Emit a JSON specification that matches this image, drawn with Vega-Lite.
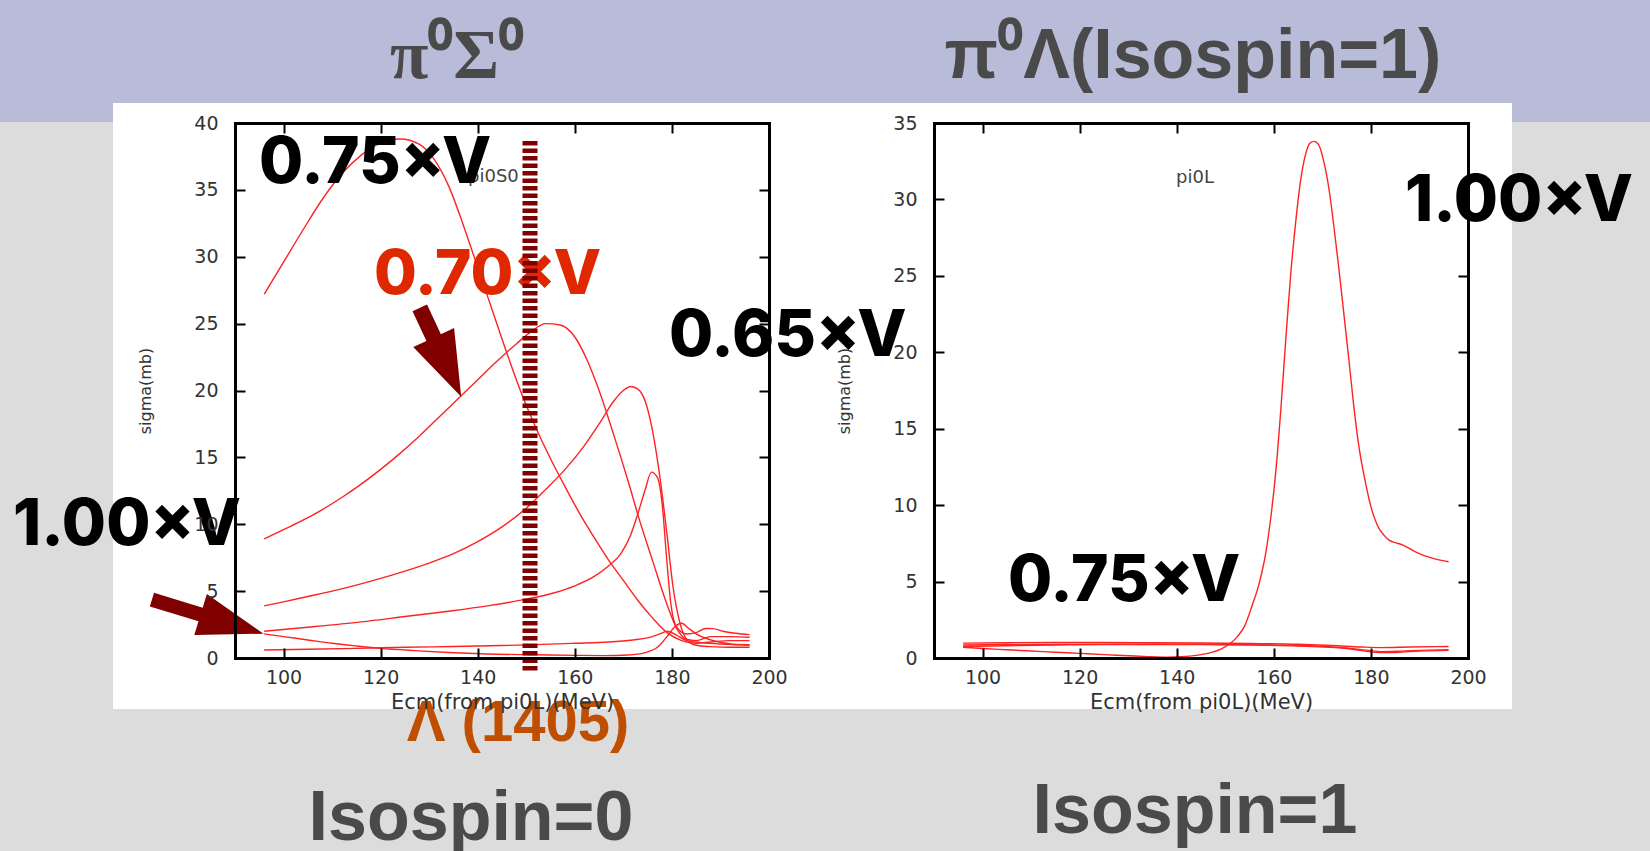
{
"$schema": "https://vega.github.io/schema/vega-lite/v6.json",
"padding": 0,
"background": "#dcdcdc",
"bounds": "flush",
"spacing": 165,
"config": {
  "view": {"stroke": null},
  "axis": {"domainColor": "#000", "domainWidth": 3, "domainCap": "square", "tickColor": "#000", "tickWidth": 2, "tickSize": -10, "labelFont": "DejaVu Sans", "labelFontSize": 19, "labelColor": "#333", "labelFlush": false, "labelOverlap": false, "titleFont": "DejaVu Sans", "titleFontWeight": "normal", "titleColor": "#333", "grid": false}
},
"datasets": {
  "left": [
    {"s":"A","x":96,"y":27.2},{"s":"A","x":100,"y":29.6},{"s":"A","x":104,"y":32.0},{"s":"A","x":108,"y":34.3},{"s":"A","x":112,"y":36.2},{"s":"A","x":116,"y":37.6},{"s":"A","x":120,"y":38.5},{"s":"A","x":124,"y":38.8},{"s":"A","x":128,"y":38.4},{"s":"A","x":131,"y":37.3},{"s":"A","x":134,"y":35.3},{"s":"A","x":137,"y":32.4},{"s":"A","x":140,"y":29.2},{"s":"A","x":143,"y":26.0},{"s":"A","x":146,"y":22.8},{"s":"A","x":149,"y":19.8},{"s":"A","x":152,"y":17.2},{"s":"A","x":155,"y":14.9},{"s":"A","x":158,"y":12.8},{"s":"A","x":161,"y":10.8},{"s":"A","x":164,"y":9.0},{"s":"A","x":167,"y":7.3},{"s":"A","x":170,"y":5.8},{"s":"A","x":173,"y":4.3},{"s":"A","x":176,"y":3.0},{"s":"A","x":179,"y":1.9},{"s":"A","x":182,"y":1.3},{"s":"A","x":185,"y":1.1},{"s":"A","x":188,"y":1.2},{"s":"A","x":192,"y":1.3},{"s":"A","x":196,"y":1.3},
    {"s":"B","x":96,"y":8.9},{"s":"B","x":100,"y":9.6},{"s":"B","x":104,"y":10.3},{"s":"B","x":108,"y":11.1},{"s":"B","x":112,"y":12.0},{"s":"B","x":116,"y":13.0},{"s":"B","x":120,"y":14.1},{"s":"B","x":124,"y":15.3},{"s":"B","x":128,"y":16.6},{"s":"B","x":132,"y":18.0},{"s":"B","x":136,"y":19.4},{"s":"B","x":140,"y":20.8},{"s":"B","x":144,"y":22.2},{"s":"B","x":148,"y":23.5},{"s":"B","x":151,"y":24.4},{"s":"B","x":154,"y":25.0},{"s":"B","x":157,"y":24.9},{"s":"B","x":160,"y":24.0},{"s":"B","x":162.5,"y":22.3},{"s":"B","x":165,"y":20.0},{"s":"B","x":168,"y":16.7},{"s":"B","x":171,"y":13.2},{"s":"B","x":173.5,"y":10.1},{"s":"B","x":176,"y":7.3},{"s":"B","x":179,"y":4.0},{"s":"B","x":181,"y":2.2},{"s":"B","x":183,"y":1.4},{"s":"B","x":185,"y":1.3},{"s":"B","x":188,"y":1.6},{"s":"B","x":192,"y":1.6},{"s":"B","x":196,"y":1.55},
    {"s":"C","x":96,"y":3.9},{"s":"C","x":100,"y":4.2},{"s":"C","x":105,"y":4.6},{"s":"C","x":110,"y":5.0},{"s":"C","x":115,"y":5.45},{"s":"C","x":120,"y":5.95},{"s":"C","x":125,"y":6.5},{"s":"C","x":130,"y":7.1},{"s":"C","x":135,"y":7.8},{"s":"C","x":140,"y":8.7},{"s":"C","x":145,"y":9.8},{"s":"C","x":150,"y":11.2},{"s":"C","x":154,"y":12.6},{"s":"C","x":158,"y":14.1},{"s":"C","x":162,"y":15.9},{"s":"C","x":165,"y":17.5},{"s":"C","x":168,"y":19.2},{"s":"C","x":170,"y":20.0},{"s":"C","x":171.5,"y":20.3},{"s":"C","x":173,"y":20.1},{"s":"C","x":174.5,"y":19.2},{"s":"C","x":176,"y":17.0},{"s":"C","x":177.5,"y":13.6},{"s":"C","x":179,"y":9.2},{"s":"C","x":180.2,"y":5.4},{"s":"C","x":181.6,"y":2.7},{"s":"C","x":183,"y":1.4},{"s":"C","x":185,"y":0.95},{"s":"C","x":188,"y":0.85},{"s":"C","x":192,"y":0.8},{"s":"C","x":196,"y":0.8},
    {"s":"D","x":96,"y":2.0},{"s":"D","x":105,"y":2.3},{"s":"D","x":116,"y":2.7},{"s":"D","x":125,"y":3.1},{"s":"D","x":134,"y":3.5},{"s":"D","x":142,"y":3.9},{"s":"D","x":150,"y":4.4},{"s":"D","x":156,"y":4.9},{"s":"D","x":160,"y":5.4},{"s":"D","x":164,"y":6.1},{"s":"D","x":167,"y":6.9},{"s":"D","x":169.5,"y":7.8},{"s":"D","x":171.5,"y":9.2},{"s":"D","x":173,"y":10.8},{"s":"D","x":174.5,"y":12.6},{"s":"D","x":175.8,"y":13.9},{"s":"D","x":177,"y":13.5},{"s":"D","x":178,"y":11.5},{"s":"D","x":178.9,"y":7.5},{"s":"D","x":179.8,"y":4.0},{"s":"D","x":181,"y":2.3},{"s":"D","x":183,"y":1.8},{"s":"D","x":185,"y":1.9},{"s":"D","x":187,"y":2.2},{"s":"D","x":188.5,"y":2.2},{"s":"D","x":190.5,"y":2.0},{"s":"D","x":193,"y":1.85},{"s":"D","x":196,"y":1.75},
    {"s":"E","x":96,"y":1.8},{"s":"E","x":100,"y":1.6},{"s":"E","x":105,"y":1.35},{"s":"E","x":110,"y":1.1},{"s":"E","x":115,"y":0.9},{"s":"E","x":120,"y":0.72},{"s":"E","x":127,"y":0.55},{"s":"E","x":134,"y":0.41},{"s":"E","x":142,"y":0.3},{"s":"E","x":152,"y":0.24},{"s":"E","x":160,"y":0.2},{"s":"E","x":166,"y":0.18},{"s":"E","x":171,"y":0.22},{"s":"E","x":174.5,"y":0.4},{"s":"E","x":177,"y":0.8},{"s":"E","x":179,"y":1.6},{"s":"E","x":180.5,"y":2.3},{"s":"E","x":182,"y":2.6},{"s":"E","x":183.5,"y":2.2},{"s":"E","x":185,"y":1.8},{"s":"E","x":188,"y":1.35},{"s":"E","x":192,"y":1.05},{"s":"E","x":196,"y":0.95},
    {"s":"F","x":96,"y":0.6},{"s":"F","x":105,"y":0.65},{"s":"F","x":115,"y":0.72},{"s":"F","x":125,"y":0.8},{"s":"F","x":135,"y":0.86},{"s":"F","x":145,"y":0.93},{"s":"F","x":152,"y":1.0},{"s":"F","x":160,"y":1.1},{"s":"F","x":167,"y":1.2},{"s":"F","x":172,"y":1.35},{"s":"F","x":175,"y":1.5},{"s":"F","x":177.5,"y":1.8},{"s":"F","x":179,"y":2.0},{"s":"F","x":181,"y":1.7},{"s":"F","x":183,"y":1.3},{"s":"F","x":186,"y":1.15},{"s":"F","x":190,"y":1.05},{"s":"F","x":196,"y":1.0}
  ],
  "right": [
    {"s":"M","x":96,"y":0.7},{"s":"M","x":100,"y":0.62},{"s":"M","x":105,"y":0.54},{"s":"M","x":110,"y":0.46},{"s":"M","x":115,"y":0.38},{"s":"M","x":120,"y":0.3},{"s":"M","x":125,"y":0.22},{"s":"M","x":130,"y":0.15},{"s":"M","x":134,"y":0.09},{"s":"M","x":138,"y":0.05},{"s":"M","x":141,"y":0.08},{"s":"M","x":144,"y":0.17},{"s":"M","x":147,"y":0.35},{"s":"M","x":149.2,"y":0.6},{"s":"M","x":151,"y":0.95},{"s":"M","x":152.5,"y":1.4},{"s":"M","x":154,"y":2.1},{"s":"M","x":155.5,"y":3.4},{"s":"M","x":157,"y":4.9},{"s":"M","x":158.3,"y":6.8},{"s":"M","x":159.5,"y":9.5},{"s":"M","x":160.5,"y":12.5},{"s":"M","x":161.5,"y":16.5},{"s":"M","x":162.5,"y":21.0},{"s":"M","x":163.5,"y":25.2},{"s":"M","x":164.5,"y":28.5},{"s":"M","x":165.5,"y":31.2},{"s":"M","x":166.5,"y":32.9},{"s":"M","x":167.5,"y":33.7},{"s":"M","x":168.3,"y":33.8},{"s":"M","x":169.2,"y":33.6},{"s":"M","x":170.2,"y":32.6},{"s":"M","x":171.4,"y":30.6},{"s":"M","x":172.5,"y":27.9},{"s":"M","x":173.5,"y":25.2},{"s":"M","x":174.5,"y":22.3},{"s":"M","x":175.5,"y":19.4},{"s":"M","x":176.5,"y":16.4},{"s":"M","x":177.5,"y":13.9},{"s":"M","x":178.8,"y":11.6},{"s":"M","x":180,"y":9.9},{"s":"M","x":181.3,"y":8.7},{"s":"M","x":182.5,"y":8.1},{"s":"M","x":183.8,"y":7.7},{"s":"M","x":185,"y":7.55},{"s":"M","x":186.5,"y":7.4},{"s":"M","x":188,"y":7.15},{"s":"M","x":189.5,"y":6.9},{"s":"M","x":191,"y":6.7},{"s":"M","x":193,"y":6.5},{"s":"M","x":196,"y":6.3},
    {"s":"R2","x":96,"y":0.97},{"s":"R2","x":105,"y":1.0},{"s":"R2","x":115,"y":1.02},{"s":"R2","x":125,"y":1.02},{"s":"R2","x":135,"y":1.0},{"s":"R2","x":145,"y":0.98},{"s":"R2","x":155,"y":0.95},{"s":"R2","x":165,"y":0.9},{"s":"R2","x":172,"y":0.82},{"s":"R2","x":178,"y":0.72},{"s":"R2","x":182,"y":0.68},{"s":"R2","x":188,"y":0.72},{"s":"R2","x":196,"y":0.75},
    {"s":"R3","x":96,"y":0.85},{"s":"R3","x":105,"y":0.88},{"s":"R3","x":115,"y":0.9},{"s":"R3","x":125,"y":0.9},{"s":"R3","x":135,"y":0.9},{"s":"R3","x":145,"y":0.9},{"s":"R3","x":155,"y":0.88},{"s":"R3","x":165,"y":0.82},{"s":"R3","x":172,"y":0.72},{"s":"R3","x":178,"y":0.55},{"s":"R3","x":182,"y":0.42},{"s":"R3","x":186,"y":0.45},{"s":"R3","x":190,"y":0.5},{"s":"R3","x":196,"y":0.55},
    {"s":"R4","x":96,"y":0.75},{"s":"R4","x":105,"y":0.8},{"s":"R4","x":115,"y":0.85},{"s":"R4","x":125,"y":0.88},{"s":"R4","x":135,"y":0.88},{"s":"R4","x":145,"y":0.88},{"s":"R4","x":155,"y":0.85},{"s":"R4","x":165,"y":0.78},{"s":"R4","x":175,"y":0.62},{"s":"R4","x":182,"y":0.35},{"s":"R4","x":186,"y":0.38},{"s":"R4","x":190,"y":0.45},{"s":"R4","x":196,"y":0.5}
  ]
},
"hconcat": [
  {
    "width": 534, "height": 535,
    "resolve": {"axis": {"x": "independent", "y": "independent"}},
    "layer": [
      {"data": {"values": [{}]}, "mark": {"type": "rect", "color": "#b8bcd8"},
       "encoding": {"x": {"datum": 41.592, "type": "quantitative", "axis": null}, "x2": {"datum": 381.48}, "y": {"datum": 49.196, "type": "quantitative", "axis": null}, "y2": {"datum": 40.075}}},
      {"data": {"values": [{}]}, "mark": {"type": "rect", "color": "#dcdcdc"},
       "encoding": {"x": {"datum": 41.592, "type": "quantitative", "axis": null}, "x2": {"datum": 381.48}, "y": {"datum": -3.813, "type": "quantitative", "axis": null}, "y2": {"datum": -14.43}}},
      {"data": {"values": [{}]}, "mark": {"type": "rect", "color": "#ffffff"},
       "encoding": {"x": {"datum": 64.869, "type": "quantitative", "axis": null}, "x2": {"datum": 353.05}, "y": {"datum": 41.495, "type": "quantitative", "axis": null}, "y2": {"datum": -3.813}}},
      {"data": {"name": "left"}, "mark": {"type": "line", "color": "#ff2222", "strokeWidth": 1.4, "interpolate": "monotone"},
       "encoding": {
         "x": {"field": "x", "type": "quantitative", "scale": {"domain": [90, 200], "nice": false, "zero": false},
               "axis": {"orient": "bottom", "title": "Ecm(from pi0L)(MeV)", "values": [100,120,140,160,180,200], "labelPadding": 20, "titlePadding": 4, "titleFontSize": 21, "zindex": 1}},
         "y": {"field": "y", "type": "quantitative", "scale": {"domain": [0, 40], "nice": false, "zero": false},
               "axis": {"orient": "left", "title": "sigma(mb)", "values": [0,5,10,15,20,25,30,35,40], "labelPadding": 27, "titlePadding": 40, "titleFontSize": 16, "zindex": 1}},
         "detail": {"field": "s", "type": "nominal"}}},
      {"data": {"name": "left"}, "mark": {"type": "point", "opacity": 0},
       "encoding": {
         "x": {"field": "x", "type": "quantitative", "scale": {"domain": [90, 200], "nice": false, "zero": false},
               "axis": {"orient": "top", "title": null, "labels": false, "values": [100,120,140,160,180,200], "zindex": 1}},
         "y": {"field": "y", "type": "quantitative", "scale": {"domain": [0, 40], "nice": false, "zero": false},
               "axis": {"orient": "right", "title": null, "labels": false, "values": [0,5,10,15,20,25,30,35,40], "zindex": 1}}}},
      {"data": {"values": [{}]}, "mark": {"type": "text", "text": "pi0S0", "font": "DejaVu Sans", "fontSize": 18, "align": "left", "baseline": "alphabetic", "color": "#444"},
       "encoding": {"x": {"datum": 138.0, "type": "quantitative", "axis": null}, "y": {"datum": 35.59, "type": "quantitative", "axis": null}}},
      {"data": {"values": [{}]}, "mark": {"type": "text", "text": "0.75×V", "font": "Inter", "fontWeight": 800, "fontSize": 64, "align": "left", "baseline": "alphabetic", "color": "#000"},
       "encoding": {"x": {"datum": 94.94, "type": "quantitative", "axis": null}, "y": {"datum": 35.51, "type": "quantitative", "axis": null}}},
      {"data": {"values": [{}]}, "mark": {"type": "text", "text": "0.70×V", "font": "Inter", "fontWeight": 800, "fontSize": 62, "align": "left", "baseline": "alphabetic", "color": "#e02800"},
       "encoding": {"x": {"datum": 118.63, "type": "quantitative", "axis": null}, "y": {"datum": 27.2, "type": "quantitative", "axis": null}}},
      {"data": {"values": [{}]}, "mark": {"type": "text", "text": "0.65×V", "font": "Inter", "fontWeight": 800, "fontSize": 64, "align": "left", "baseline": "alphabetic", "color": "#000"},
       "encoding": {"x": {"datum": 179.40, "type": "quantitative", "axis": null}, "y": {"datum": 22.58, "type": "quantitative", "axis": null}}},
      {"data": {"values": [{}]}, "mark": {"type": "text", "text": "1.00×V", "font": "Inter", "fontWeight": 800, "fontSize": 64, "align": "left", "baseline": "alphabetic", "color": "#000"},
       "encoding": {"x": {"datum": 44.27, "type": "quantitative", "axis": null}, "y": {"datum": 8.45, "type": "quantitative", "axis": null}}},
      {"data": {"values": [{}]}, "mark": {"type": "rule", "color": "#800000", "strokeWidth": 15, "strokeDash": [4.5, 3]},
       "encoding": {"x": {"datum": 150.77, "type": "quantitative", "axis": null}, "y": {"datum": 38.65, "type": "quantitative", "axis": null}, "y2": {"datum": -1.05}}},
      {"data": {"values": [{}]}, "mark": {"type": "point", "shape": "M0,-1L0.46,0.33L0.163,0.33L0.163,1L-0.163,1L-0.163,0.33L-0.46,0.33Z", "filled": true, "color": "#800000", "opacity": 1, "size": 9604, "angle": 155, "strokeWidth": 0},
       "encoding": {"x": {"datum": 132.33, "type": "quantitative", "axis": null}, "y": {"datum": 22.86, "type": "quantitative", "axis": null}}},
      {"data": {"values": [{}]}, "mark": {"type": "point", "shape": "M0,-1L0.369,0.127L0.122,0.127L0.122,1L-0.122,1L-0.122,0.127L-0.369,0.127Z", "filled": true, "color": "#800000", "opacity": 1, "size": 13595, "angle": 107, "strokeWidth": 0},
       "encoding": {"x": {"datum": 84.37, "type": "quantitative", "axis": null}, "y": {"datum": 3.09, "type": "quantitative", "axis": null}}},
      {"data": {"values": [{}]}, "mark": {"type": "text", "text": "π⁰Σ⁰", "font": "Liberation Serif", "fontWeight": "bold", "fontSize": 70, "align": "center", "baseline": "alphabetic", "color": "#4a4a4a"},
       "encoding": {"x": {"datum": 135.73, "type": "quantitative", "axis": null}, "y": {"datum": 43.36, "type": "quantitative", "axis": null}}},
      {"data": {"values": [{}]}, "mark": {"type": "text", "text": "Λ (1405)", "font": "Liberation Sans", "fontWeight": "bold", "fontSize": 58, "align": "center", "baseline": "alphabetic", "color": "#c04e00"},
       "encoding": {"x": {"datum": 148.30, "type": "quantitative", "axis": null}, "y": {"datum": -6.21, "type": "quantitative", "axis": null}}},
      {"data": {"values": [{}]}, "mark": {"type": "text", "text": "Isospin=0", "font": "Liberation Sans", "fontWeight": "bold", "fontSize": 70, "align": "center", "baseline": "alphabetic", "color": "#4a4a4a"},
       "encoding": {"x": {"datum": 138.61, "type": "quantitative", "axis": null}, "y": {"datum": -13.61, "type": "quantitative", "axis": null}}}
    ]
  },
  {
    "width": 534, "height": 535,
    "resolve": {"axis": {"x": "independent", "y": "independent"}},
    "layer": [
      {"data": {"name": "right"}, "mark": {"type": "line", "color": "#ff2222", "strokeWidth": 1.4, "interpolate": "monotone"},
       "encoding": {
         "x": {"field": "x", "type": "quantitative", "scale": {"domain": [90, 200], "nice": false, "zero": false},
               "axis": {"orient": "bottom", "title": "Ecm(from pi0L)(MeV)", "values": [100,120,140,160,180,200], "labelPadding": 20, "titlePadding": 4, "titleFontSize": 21, "zindex": 1}},
         "y": {"field": "y", "type": "quantitative", "scale": {"domain": [0, 35], "nice": false, "zero": false},
               "axis": {"orient": "left", "title": "sigma(mb)", "values": [0,5,10,15,20,25,30,35], "labelPadding": 27, "titlePadding": 40, "titleFontSize": 16, "zindex": 1}},
         "detail": {"field": "s", "type": "nominal"}}},
      {"data": {"name": "right"}, "mark": {"type": "point", "opacity": 0},
       "encoding": {
         "x": {"field": "x", "type": "quantitative", "scale": {"domain": [90, 200], "nice": false, "zero": false},
               "axis": {"orient": "top", "title": null, "labels": false, "values": [100,120,140,160,180,200], "zindex": 1}},
         "y": {"field": "y", "type": "quantitative", "scale": {"domain": [0, 35], "nice": false, "zero": false},
               "axis": {"orient": "right", "title": null, "labels": false, "values": [0,5,10,15,20,25,30,35], "zindex": 1}}}},
      {"data": {"values": [{}]}, "mark": {"type": "text", "text": "pi0L", "font": "DejaVu Sans", "fontSize": 18, "align": "left", "baseline": "alphabetic", "color": "#444"},
       "encoding": {"x": {"datum": 139.85, "type": "quantitative", "axis": null}, "y": {"datum": 31.07, "type": "quantitative", "axis": null}}},
      {"data": {"values": [{}]}, "mark": {"type": "text", "text": "1.00×V", "font": "Inter", "fontWeight": 800, "fontSize": 64, "align": "left", "baseline": "alphabetic", "color": "#000"},
       "encoding": {"x": {"datum": 187.02, "type": "quantitative", "axis": null}, "y": {"datum": 28.59, "type": "quantitative", "axis": null}}},
      {"data": {"values": [{}]}, "mark": {"type": "text", "text": "0.75×V", "font": "Inter", "fontWeight": 800, "fontSize": 64, "align": "left", "baseline": "alphabetic", "color": "#000"},
       "encoding": {"x": {"datum": 105.24, "type": "quantitative", "axis": null}, "y": {"datum": 3.73, "type": "quantitative", "axis": null}}},
      {"data": {"values": [{}]}, "mark": {"type": "text", "text": "π⁰Λ(Isospin=1)", "font": "Liberation Sans", "fontWeight": "bold", "fontSize": 70, "align": "center", "baseline": "alphabetic", "color": "#4a4a4a"},
       "encoding": {"x": {"datum": 143.35, "type": "quantitative", "axis": null}, "y": {"datum": 37.94, "type": "quantitative", "axis": null}}},
      {"data": {"values": [{}]}, "mark": {"type": "text", "text": "Isospin=1", "font": "Liberation Sans", "fontWeight": "bold", "fontSize": 70, "align": "center", "baseline": "alphabetic", "color": "#4a4a4a"},
       "encoding": {"x": {"datum": 143.76, "type": "quantitative", "axis": null}, "y": {"datum": -11.45, "type": "quantitative", "axis": null}}}
    ]
  }
]
}
